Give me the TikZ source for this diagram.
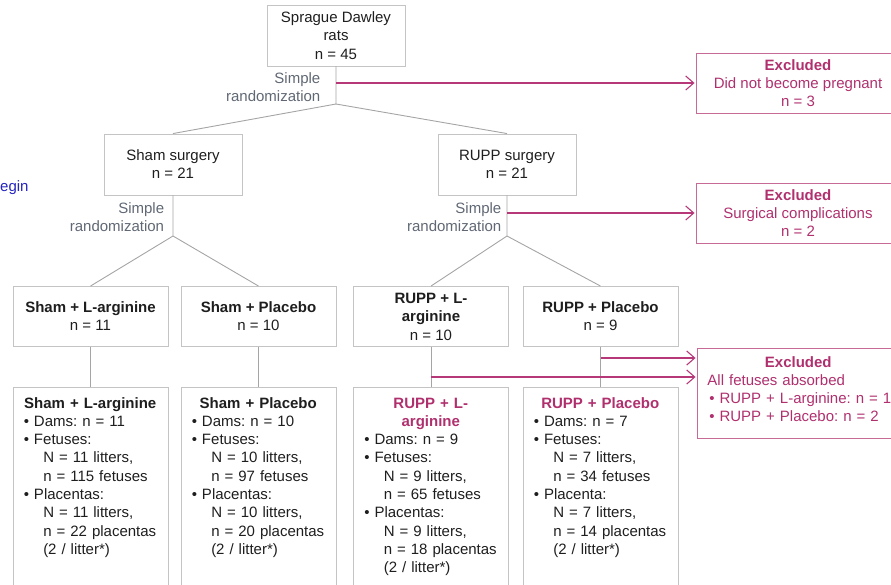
\documentclass[tikz,border=0pt]{standalone}
\usepackage{fontspec}
\setmainfont{Liberation Sans}
\usetikzlibrary{arrows.meta,calc}

\definecolor{inkgray}{RGB}{30,30,30}
\definecolor{boxgray}{RGB}{196,196,196}
\definecolor{linegray}{RGB}{165,165,165}
\definecolor{slate}{RGB}{96,104,116}
\definecolor{pinktext}{RGB}{176,48,110}
\definecolor{pinkline}{RGB}{182,56,120}
\definecolor{pinkborder}{RGB}{200,106,150}
\definecolor{linkblue}{RGB}{36,36,190}

% line strut: every text line is 18.3pt tall, centred on its visual middle
\newcommand\lnst{\rule[-3.85pt]{0pt}{18.3pt}}
\frenchspacing

\begin{document}
\begin{tikzpicture}[x=1pt,y=-1pt,
  every node/.style={font=\fontsize{15}{18.3}\selectfont, text=inkgray, inner sep=0pt},
  gbox/.style={draw=boxgray, line width=0.9pt, align=center},
  exbox/.style={draw=pinkborder, line width=0.9pt, align=center, text=pinktext},
  link/.style={draw=linegray, line width=0.9pt},
  exarrow/.style={draw=pinkline, line width=1.1pt, -{Straight Barb[length=8pt,width=14pt]}, shorten >=1pt},
  randlab/.style={text=slate, align=right, anchor=east},
  bodytext/.style={anchor=north west, text width=150pt, align=left}
]
\useasboundingbox (0,0) rectangle (891,584);
\clip (0,0) rectangle (891,584);

% ---- first level
\node[gbox, minimum width=138pt, minimum height=61pt] (rats) at (336,35.5)
  {\lnst Sprague Dawley\\\lnst rats\\\lnst n = 45};
\node[exbox, minimum width=204pt, minimum height=60pt] (ex1) at (798,83)
  {\lnst\textbf{Excluded}\\\lnst Did not become pregnant\\\lnst n = 3};
\node[randlab] (r0) at (320.5,87.5) {\lnst Simple\\\lnst randomization};
\coordinate (j0) at (336,104);

% ---- surgery
\node[gbox, minimum width=138pt, minimum height=61pt] (sham) at (173,164.5)
  {\lnst Sham surgery\\\lnst n = 21};
\node[gbox, minimum width=138pt, minimum height=61pt] (rupp) at (507,164.5)
  {\lnst RUPP surgery\\\lnst n = 21};
\node[exbox, minimum width=204pt, minimum height=60pt] (ex2) at (798,213)
  {\lnst\textbf{Excluded}\\\lnst Surgical complications\\\lnst n = 2};
\node[randlab] (r1) at (164.3,217.5) {\lnst Simple\\\lnst randomization};
\node[randlab] (r2) at (501.5,217.5) {\lnst Simple\\\lnst randomization};
\coordinate (j1) at (173,236);
\coordinate (j2) at (507,236);

% ---- treatment groups
\node[gbox, minimum width=155pt, minimum height=60pt] (b1) at (90.5,316.5)
  {\lnst\textbf{Sham + L-arginine}\\\lnst n = 11};
\node[gbox, minimum width=155pt, minimum height=60pt] (b2) at (258.5,316.5)
  {\lnst\textbf{Sham + Placebo}\\\lnst n = 10};
\node[gbox, minimum width=155pt, minimum height=60pt] (b3) at (431,316.5)
  {\lnst\textbf{RUPP + L-}\\\lnst\textbf{arginine}\\\lnst n = 10};
\node[gbox, minimum width=155pt, minimum height=60pt] (b4) at (600.5,316.5)
  {\lnst\textbf{RUPP + Placebo}\\\lnst n = 9};

% ---- analysed groups
\node[gbox, minimum width=155pt, minimum height=213pt] (d1) at (90.5,493.5) {};
\node[gbox, minimum width=155pt, minimum height=213pt] (d2) at (258.5,493.5) {};
\node[gbox, minimum width=155pt, minimum height=213pt] (d3) at (431,493.5) {};
\node[gbox, minimum width=155pt, minimum height=213pt] (d4) at (600.5,493.5) {};
\node[exbox, minimum width=203pt, minimum height=90pt] (ex3) at (798.5,393) {};

\node[bodytext] (t1) at ($(d1.north west)+(11,6.85)$) {%
  \makebox[133pt]{\lnst\textbf{Sham + L-arginine}}\\
  \lnst• Dams: n = 11\\
  \lnst• Fetuses:\\
  \lnst\hspace*{19.5pt}N = 11 litters,\\
  \lnst\hspace*{19.5pt}n = 115 fetuses\\
  \lnst• Placentas:\\
  \lnst\hspace*{19.5pt}N = 11 litters,\\
  \lnst\hspace*{19.5pt}n = 22 placentas\\
  \lnst\hspace*{19.5pt}(2 / litter*)};
\node[bodytext] (t2) at ($(d2.north west)+(11,6.85)$) {%
  \makebox[133pt]{\lnst\textbf{Sham + Placebo}}\\
  \lnst• Dams: n = 10\\
  \lnst• Fetuses:\\
  \lnst\hspace*{19.5pt}N = 10 litters,\\
  \lnst\hspace*{19.5pt}n = 97 fetuses\\
  \lnst• Placentas:\\
  \lnst\hspace*{19.5pt}N = 10 litters,\\
  \lnst\hspace*{19.5pt}n = 20 placentas\\
  \lnst\hspace*{19.5pt}(2 / litter*)};
\node[bodytext] (t3) at ($(d3.north west)+(11,6.85)$) {%
  \makebox[133pt]{\lnst\textcolor{pinktext}{\bfseries RUPP + L-}}\\
  \makebox[133pt]{\lnst\textcolor{pinktext}{\bfseries arginine}}\\
  \lnst• Dams: n = 9\\
  \lnst• Fetuses:\\
  \lnst\hspace*{19.5pt}N = 9 litters,\\
  \lnst\hspace*{19.5pt}n = 65 fetuses\\
  \lnst• Placentas:\\
  \lnst\hspace*{19.5pt}N = 9 litters,\\
  \lnst\hspace*{19.5pt}n = 18 placentas\\
  \lnst\hspace*{19.5pt}(2 / litter*)};
\node[bodytext] (t4) at ($(d4.north west)+(11,6.85)$) {%
  \makebox[133pt]{\lnst\textcolor{pinktext}{\bfseries RUPP + Placebo}}\\
  \lnst• Dams: n = 7\\
  \lnst• Fetuses:\\
  \lnst\hspace*{19.5pt}N = 7 litters,\\
  \lnst\hspace*{19.5pt}n = 34 fetuses\\
  \lnst• Placenta:\\
  \lnst\hspace*{19.5pt}N = 7 litters,\\
  \lnst\hspace*{19.5pt}n = 14 placentas\\
  \lnst\hspace*{19.5pt}(2 / litter*)};
\node[bodytext, text width=200pt, text=pinktext] (t5) at ($(ex3.north west)+(10.7,4.85)$) {%
  \makebox[181.6pt]{\lnst\textbf{Excluded}}\\
  \lnst All fetuses absorbed\\
  \lnst\hspace*{1.8pt}• RUPP + L-arginine: n = 1\\
  \lnst\hspace*{1.8pt}• RUPP + Placebo: n = 2};

\node[anchor=west, text=linkblue] (lk) at (0,186) {\lnst egin};

% ---- grey flow lines
\draw[link] (rats.south) -- (j0) -- (sham.north);
\draw[link] (j0) -- (rupp.north);
\draw[link] (sham.south) -- (j1) -- (b1.north);
\draw[link] (j1) -- (b2.north);
\draw[link] (rupp.south) -- (j2) -- (b3.north);
\draw[link] (j2) -- (b4.north);
\draw[link] (b1.south) -- (d1.north);
\draw[link] (b2.south) -- (d2.north);
\draw[link] (b3.south) -- (d3.north);
\draw[link] (b4.south) -- (d4.north);

% ---- exclusions
\path (ex3.west) ++(0,-35) coordinate (ex3a);
\path (ex3.west) ++(0,-16) coordinate (ex3b);
\draw[exarrow] (rats.south |- ex1.west) -- (ex1.west);
\draw[exarrow] (rupp.south |- ex2.west) -- (ex2.west);
\draw[exarrow] (d4.north |- ex3a) -- (ex3a);
\draw[exarrow] (d3.north |- ex3b) -- (ex3b);
\end{tikzpicture}
\end{document}
